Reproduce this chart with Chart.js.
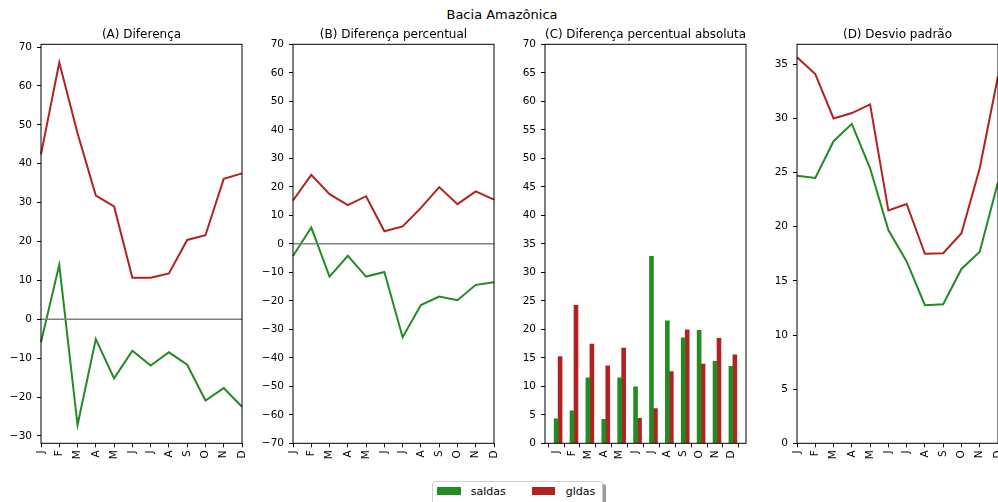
<!DOCTYPE html>
<html>
<head>
<meta charset="utf-8">
<script src="https://cdn.jsdelivr.net/npm/chart.js@4.4.0/dist/chart.umd.min.js"></script>
<style>
body { margin: 0; width: 998px; height: 502px; overflow: hidden; background: #fff; position: relative; font-family: 'DejaVu Sans', sans-serif; }
canvas { position: absolute; top: 0; }
#sup { position: absolute; left: 0; width: 1004px; top: 7.5px; text-align: center; font-size: 13px; line-height: 13px; color: #000; }
#legend { position: absolute; left: 432px; top: 481px; width: 169px; height: 30px; border: 1px solid #d0d0d0; border-radius: 3px; background: #fff; box-shadow: 3px 3px 0 #9a9a9a; }
#legend .patch { position: absolute; top: 5.3px; width: 23.7px; height: 7.7px; }
#legend .lbl { position: absolute; top: 3.7px; font-size: 11px; line-height: 11px; color: #000; }
</style>
</head>
<body>
<div id="sup">Bacia Amazônica</div>
<canvas id="chartA" width="291" height="470"></canvas>
<canvas id="chartB" width="291" height="470"></canvas>
<canvas id="chartC" width="291" height="470"></canvas>
<canvas id="chartD" width="291" height="470"></canvas>
<div id="legend">
  <div class="patch" style="left:4.3px;background:#228b22"></div>
  <div class="lbl" style="left:37.7px">saldas</div>
  <div class="patch" style="left:98.7px;background:#b22222"></div>
  <div class="lbl" style="left:132.7px">gldas</div>
</div>
<script>
var months = ['J', 'F', 'M', 'A', 'M', 'J', 'J', 'A', 'S', 'O', 'N', 'D'];
var zeroLine = [0, 0, 0, 0, 0, 0, 0, 0, 0, 0, 0, 0];

// (A) Diferenca
var difSaldas = [-5.9, 14.0, -27.2, -5.1, -15.2, -8.1, -11.9, -8.5, -11.7, -20.9, -17.7, -22.5];
var difGldas = [42.4, 66.0, 47.8, 31.8, 29.0, 10.7, 10.7, 11.8, 20.4, 21.6, 36.1, 37.5];
// (B) Diferenca percentual
var percSaldas = [-4.3, 5.7, -11.5, -4.2, -11.5, -9.9, -32.8, -21.5, -18.5, -19.8, -14.4, -13.5];
var percGldas = [15.2, 24.2, 17.4, 13.6, 16.7, 4.4, 6.1, 12.6, 19.9, 13.9, 18.4, 15.5];
// (C) Diferenca percentual absoluta
var absSaldas = [4.3, 5.7, 11.5, 4.2, 11.5, 9.9, 32.8, 21.5, 18.5, 19.8, 14.4, 13.5];
var absGldas = [15.2, 24.2, 17.4, 13.6, 16.7, 4.4, 6.1, 12.6, 19.9, 13.9, 18.4, 15.5];
// (D) Desvio padrao
var dpSaldas = [24.7, 24.5, 27.9, 29.5, 25.4, 19.7, 16.8, 12.75, 12.85, 16.1, 17.7, 24.1];
var dpGldas = [35.65, 34.1, 30.0, 30.5, 31.3, 21.5, 22.1, 17.5, 17.55, 19.4, 25.4, 33.9];

var ticksA = [-30, -20, -10, 0, 10, 20, 30, 40, 50, 60, 70];
var ticksB = [-70, -60, -50, -40, -30, -20, -10, 0, 10, 20, 30, 40, 50, 60, 70];
var ticksC = [0, 5, 10, 15, 20, 25, 30, 35, 40, 45, 50, 55, 60, 65, 70];
var ticksD = [0, 5, 10, 15, 20, 25, 30, 35];
var monthIdx = [0, 1, 2, 3, 4, 5, 6, 7, 8, 9, 10, 11];

var GREEN = '#228b22';
var RED = '#b22222';

Chart.defaults.font.family = "'DejaVu Sans', sans-serif";
Chart.defaults.color = '#000';

var frame = {
    id: 'frame',
    afterDatasetsDraw: function (chart) {
        var a = chart.chartArea, c = chart.ctx;
        c.save();
        c.strokeStyle = '#000';
        c.lineWidth = 1;
        c.strokeRect(a.left, a.top, a.right - a.left, a.bottom - a.top);
        c.restore();
    }
};

function minus(v) {
    return String(v).replace('-', '\u2212');
}

function yAxis(min, max, ticks) {
    return {
        type: 'linear', min: min, max: max,
        afterFit: function (s) { s.width = 45; },
        afterBuildTicks: function (s) { s.ticks = ticks.map(function (v) { return {value: v}; }); },
        grid: {drawOnChartArea: false, tickLength: 4, tickColor: '#000', tickWidth: 1},
        border: {display: false},
        ticks: {color: '#000', font: {size: 10.5}, padding: 5, callback: function (v) { return minus(v); }}
    };
}

function xGrid() {
    return {drawOnChartArea: false, tickLength: 4, tickColor: '#000', tickWidth: 1};
}

function xTicks() {
    return {color: '#000', font: {size: 10.5}, padding: 3, minRotation: 90, maxRotation: 90, autoSkip: false};
}

function baseOptions(title, scales) {
    return {
        responsive: false,
        animation: false,
        devicePixelRatio: 1,
        events: [],
        layout: {padding: {left: 0, right: 45, top: 0, bottom: 0}},
        plugins: {
            legend: {display: false},
            tooltip: {enabled: false},
            title: {
                display: true, text: title, color: '#000', fullSize: false,
                font: {size: 12, weight: 'normal', lineHeight: 1.2},
                padding: {top: 27.8, bottom: 2.1}
            }
        },
        scales: scales
    };
}

function lineSet(data, color, width) {
    return {
        data: data, borderColor: color, backgroundColor: color, borderWidth: width,
        pointRadius: 0, tension: 0, fill: false
    };
}

function linePanel(id, left, title, saldas, gldas, withZero, yMin, yMax, yTicks) {
    var el = document.getElementById(id);
    el.style.left = (left - 45) + 'px';
    var sets = [];
    if (withZero) sets.push(lineSet(zeroLine, '#808080', 1.5));
    sets.push(lineSet(gldas, RED, 2));
    sets.push(lineSet(saldas, GREEN, 2));
    return new Chart(el, {
        type: 'line',
        data: {labels: months, datasets: sets},
        options: baseOptions(title, {
            x: {
                type: 'category', offset: false,
                afterFit: function (s) { s.height = 470 - 443.3; },
                grid: xGrid(), border: {display: false}, ticks: xTicks()
            },
            y: yAxis(yMin, yMax, yTicks)
        }),
        plugins: [frame]
    });
}

linePanel('chartA', 41, '(A) Diferença', difSaldas, difGldas, true, -31.9, 70.7, ticksA);
linePanel('chartB', 293, '(B) Diferença percentual', percSaldas, percGldas, true, -70, 70, ticksB);
linePanel('chartD', 797, '(D) Desvio padrão', dpSaldas, dpGldas, false, 0, 36.85, ticksD);

// (C) bars: saldas at month index, gldas shifted by one bar width
var elC = document.getElementById('chartC');
elC.style.left = (545 - 45) + 'px';
var barOpts = {grouped: false, barPercentage: 1, categoryPercentage: 1, borderWidth: 0};
new Chart(elC, {
    type: 'bar',
    data: {
        datasets: [
            Object.assign({data: absSaldas.map(function (v, i) { return {x: i, y: v}; }), backgroundColor: GREEN}, barOpts),
            Object.assign({data: absGldas.map(function (v, i) { return {x: i + 0.25, y: v}; }), backgroundColor: RED}, barOpts)
        ]
    },
    options: baseOptions('(C) Diferença percentual absoluta', {
        x: {
            type: 'linear', min: -0.7, max: 11.95, offset: false,
            afterFit: function (s) { s.height = 470 - 443.3; },
            afterBuildTicks: function (s) { s.ticks = monthIdx.map(function (v) { return {value: v}; }); },
            grid: xGrid(), border: {display: false},
            ticks: Object.assign(xTicks(), {callback: function (v) { return months[v]; }})
        },
        y: yAxis(0, 70, ticksC)
    }),
    plugins: [frame]
});
</script>
</body>
</html>
